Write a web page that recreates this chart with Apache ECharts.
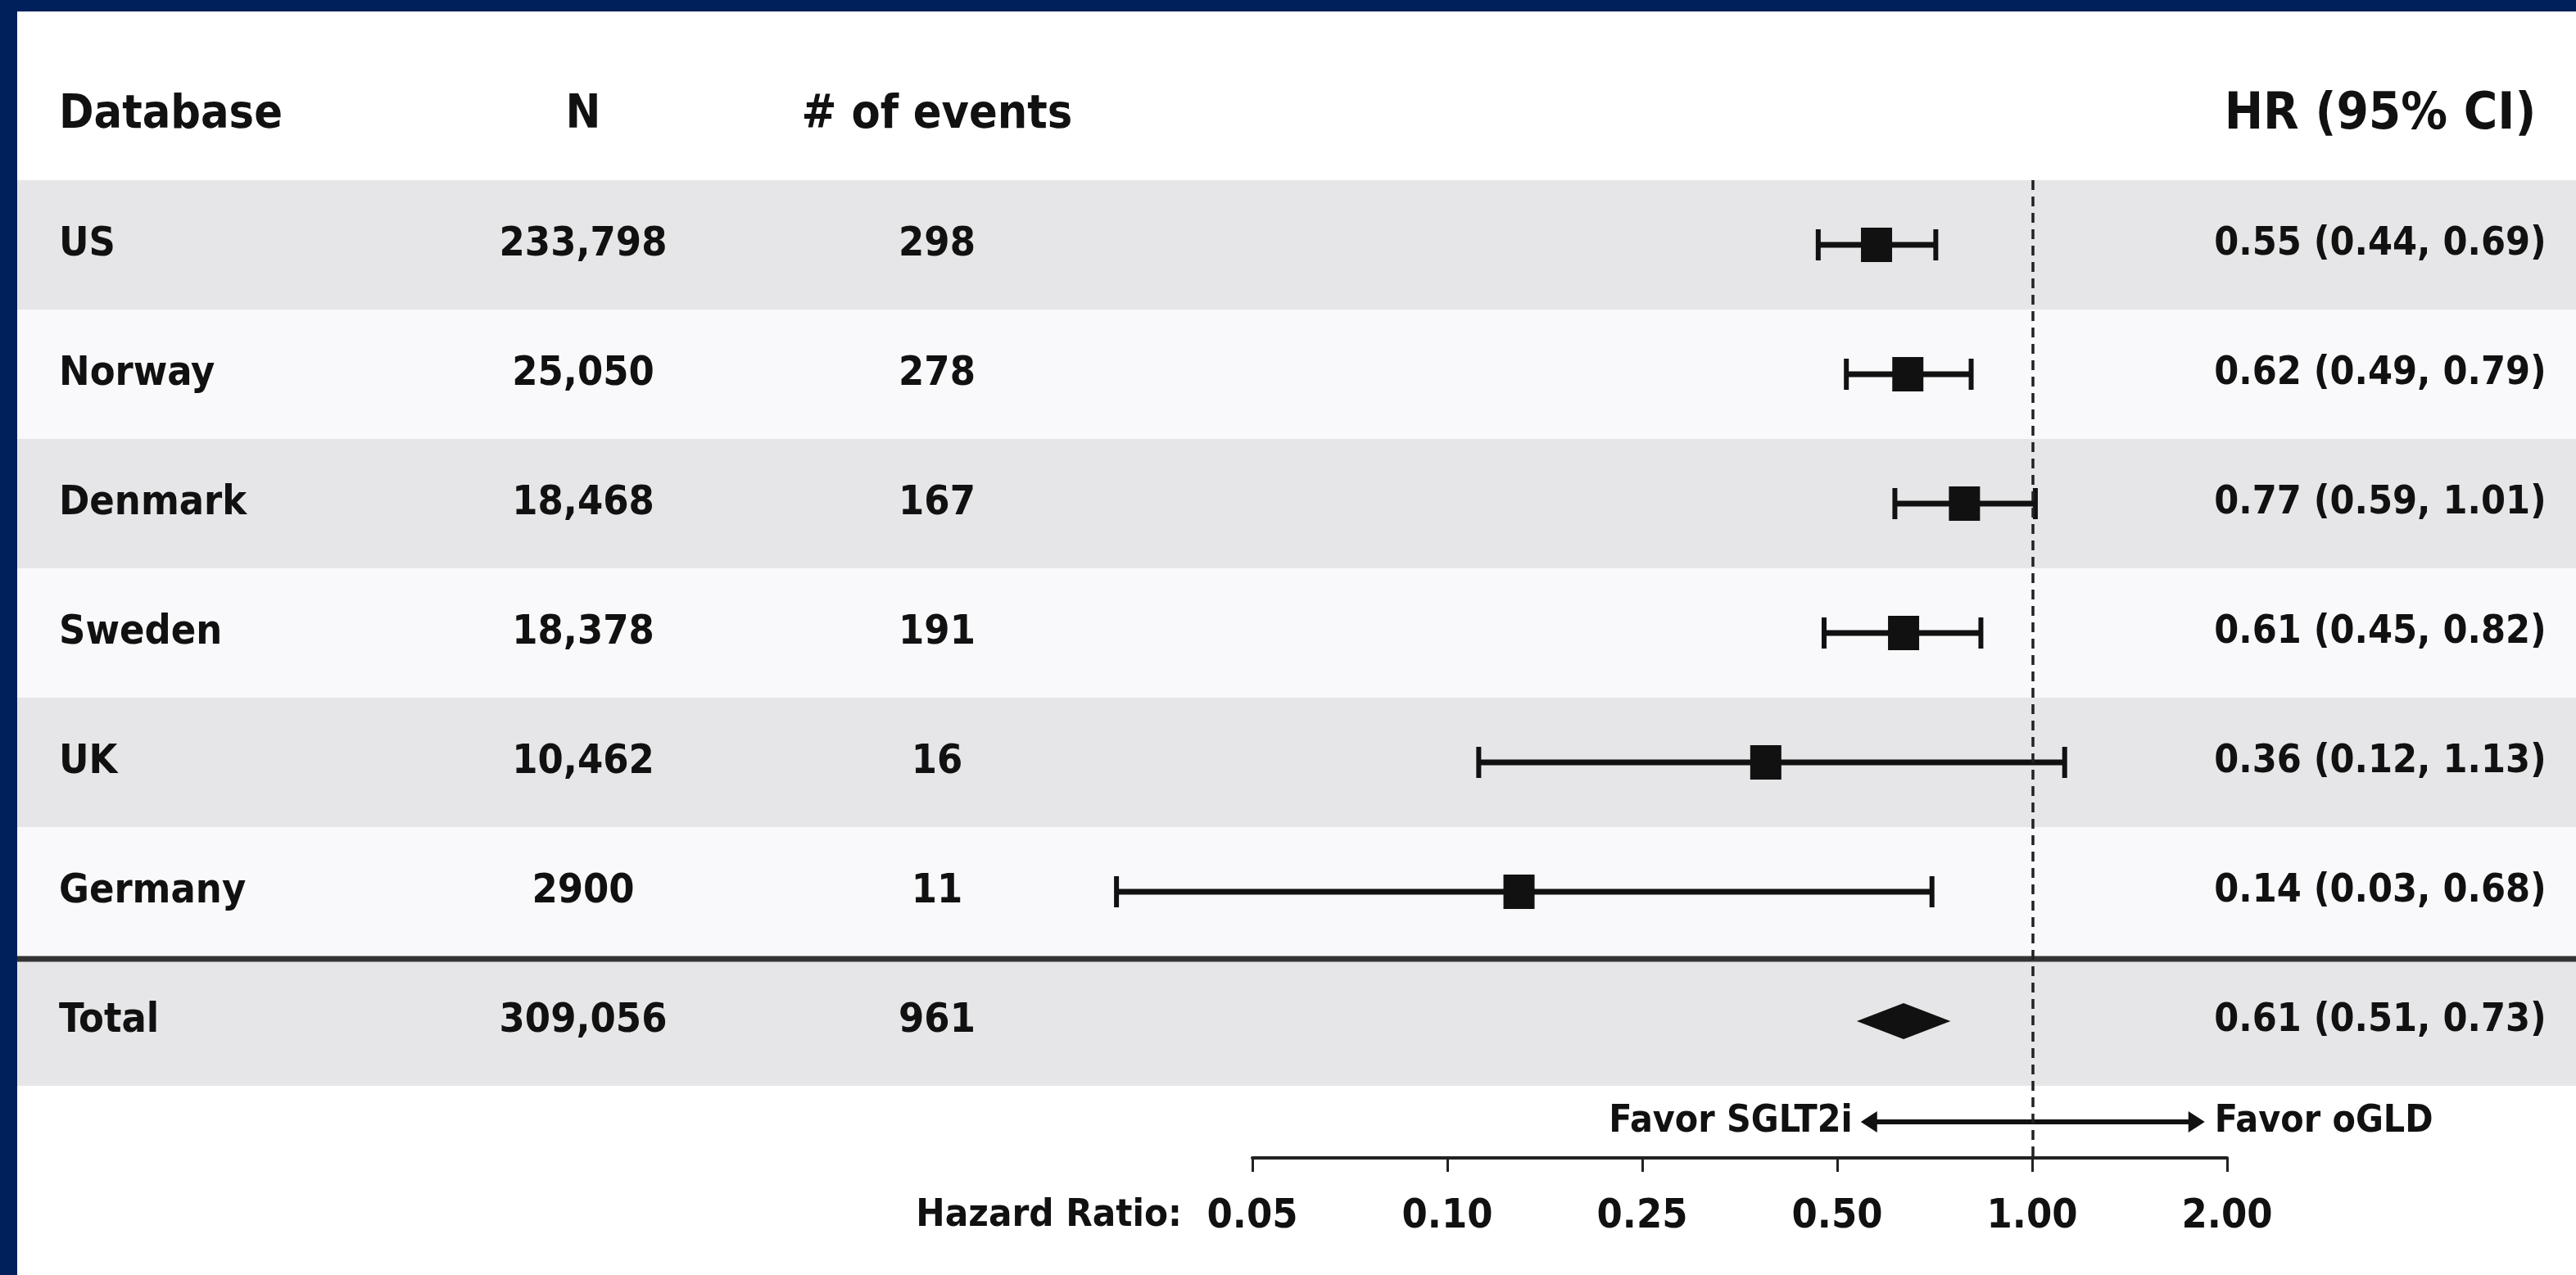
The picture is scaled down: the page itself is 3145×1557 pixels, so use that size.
<!DOCTYPE html>
<html><head><meta charset="utf-8">
<script src="https://cdn.jsdelivr.net/npm/echarts@6/dist/echarts.min.js"></script>
<style>html,body{margin:0;padding:0;background:#fff}#c{width:3145px;height:1557px}</style>
</head><body><div id="c"></div>
<script>
// ---------------- data ----------------
const databases = ['US', 'Norway', 'Denmark', 'Sweden', 'UK', 'Germany'];
const nValues   = ['233,798', '25,050', '18,468', '18,378', '10,462', '2900'];
const events    = ['298', '278', '167', '191', '16', '11'];
const hr        = [0.55, 0.62, 0.77, 0.61, 0.36, 0.14];
const ciLow     = [0.44, 0.49, 0.59, 0.45, 0.12, 0.03];
const ciHigh    = [0.69, 0.79, 1.01, 0.82, 1.13, 0.68];
const totalLabel = 'Total';
const nTotal = '309,056';
const eventsTotal = '961';
const hrTotal = [0.61];
const ciLowTotal = [0.51];
const ciHighTotal = [0.73];
const headers = ['Database', 'N', '# of events', 'HR (95% CI)'];
const tickLabels = ['0.05', '0.10', '0.25', '0.50', '1.00', '2.00'];
const axisTitle = 'Hazard Ratio:';
const favorLeft = 'Favor SGLT2i';
const favorRight = 'Favor oGLD';
const refValue = 1;

// ---------------- fonts ----------------
function hasFont(f) {
  const c = document.createElement('canvas').getContext('2d');
  const s = 'abcdefghijklmnopqrstuvwxyzABCDEFGHIJ0123456789';
  let diff = false;
  ['monospace', 'serif'].forEach(b => {
    c.font = '72px ' + b; const w1 = c.measureText(s).width;
    c.font = '72px "' + f + '", ' + b; const w2 = c.measureText(s).width;
    if (Math.abs(w1 - w2) > 0.5) diff = true;
  });
  return diff;
}
const candidates = ['Liberation Sans Narrow', 'DejaVu Sans Condensed', 'Roboto Condensed', 'Open Sans Condensed', 'Liberation Sans', 'Roboto'];
let FAM = 'sans-serif';
for (const f of candidates) { if (hasFont(f)) { FAM = '"' + f + '"'; break; } }
const FONT = FAM + ', sans-serif';
const mctx = document.createElement('canvas').getContext('2d');
function fitSize(str, target, maxSize) {
  mctx.font = 'bold 100px ' + FONT;
  const w = mctx.measureText(str).width;
  return Math.min(maxSize, Math.round(target * 100 / w));
}
const rowSize = fitSize('233,798', 206, 68);
const headerSize = fitSize('Database', 272, 70);
const hrHeadSize = fitSize('HR (95% CI)', 378, 72);
const hrSize = fitSize('0.55 (0.44, 0.69)', 408, 68);
const axisSize = fitSize('0.05', 110, 62);
const nameSize = fitSize(axisTitle, 328, 62);
const favorSize = fitSize('Favor SGLT2i', 295, 56);

// ---------------- layout ----------------
const colX = { name: 72, n: 712, events: 1144, hr: 2906 };
const INK = '#111111';
const bandColors = ['#ffffff', '#e6e6e8', '#f9f9fb', '#e6e6e8', '#f9f9fb', '#e6e6e8', '#f9f9fb', '#e6e6e8'];
const rowPitch = 158;
const dataTop = 220, axisY = 1414;

const fmt = v => v.toFixed(2);
const hrText = (h, l, u) => fmt(h) + ' (' + fmt(l) + ', ' + fmt(u) + ')';
const tableRows = [headers]
  .concat(databases.map((d, i) => [d, nValues[i], events[i], hrText(hr[i], ciLow[i], ciHigh[i])]))
  .concat([[totalLabel, nTotal, eventsTotal, hrText(hrTotal[0], ciLowTotal[0], ciHighTotal[0])]]);
const rowKeys = tableRows.map((r, i) => 'r' + i);
const totalRowIdx = tableRows.length - 1;

function txt(x, y, s, align, size) {
  return { type: 'text', x: x, y: y, style: { text: s, align: align, verticalAlign: 'middle',
    fill: INK, fontSize: size, fontWeight: 'bold', fontFamily: FONT } };
}

const chart = echarts.init(document.getElementById('c'), null, { renderer: 'canvas' });
const option = {
  animation: false,
  backgroundColor: '#ffffff',
  grid: [
    { left: 21, right: 0, top: dataTop - rowPitch, height: rowPitch * tableRows.length },
    { left: 1155, width: 1769, top: dataTop, height: axisY - dataTop },
    { left: 1529, width: 1190, top: axisY - 16, height: 16 }
  ],
  xAxis: [
    { gridIndex: 0, type: 'value', min: 0, max: 1, show: false },
    { gridIndex: 1, type: 'log', logBase: 2, min: 1 / 64, max: 4, show: false },
    { gridIndex: 2, type: 'value', min: 0, max: tickLabels.length - 1, interval: 1, position: 'bottom',
      axisLine: { show: true, onZero: false, lineStyle: { color: '#222', width: 4 } },
      axisTick: { show: true, length: 17, lineStyle: { color: '#222', width: 3 } },
      splitLine: { show: false },
      axisLabel: { formatter: v => tickLabels[Math.round(v)] || '', margin: 72, verticalAlign: 'middle',
        fontSize: axisSize, fontFamily: FONT, fontWeight: 'bold', color: INK },
      name: axisTitle, nameLocation: 'start', nameGap: 86, nameMoveOverlap: false,
      nameTextStyle: { fontSize: nameSize, fontFamily: FONT, fontWeight: 'bold', color: INK,
        align: 'right', verticalAlign: 'top', lineHeight: 142 } }
  ],
  yAxis: [
    { gridIndex: 0, type: 'category', inverse: true, data: rowKeys,
      axisLine: { show: false }, axisTick: { show: false }, axisLabel: { show: false },
      splitLine: { show: false },
      splitArea: { show: true, interval: 0, areaStyle: { color: bandColors } } },
    { gridIndex: 1, type: 'value', inverse: true, min: -0.5, max: -0.5 + (axisY - dataTop) / rowPitch, show: false },
    { gridIndex: 2, type: 'value', min: 0, max: 1, show: false }
  ],
  graphic: [
    { type: 'rect', z: 100, shape: { x: 0, y: 0, width: 3145, height: 14 }, style: { fill: '#00205b' } },
    { type: 'rect', z: 100, shape: { x: 0, y: 0, width: 21, height: 1557 }, style: { fill: '#00205b' } }
  ],
  series: [
    { // table text + separator
      type: 'custom', xAxisIndex: 0, yAxisIndex: 0, silent: true,
      data: tableRows.map((r, i) => [0.5, i]),
      renderItem: function (params, api) {
        const i = api.value(1);
        const y = api.coord([0, i])[1];
        const band = api.size([0, 1])[1];
        const cs = params.coordSys;
        const cells = tableRows[i];
        const head = i === 0;
        const s = head ? headerSize : rowSize;
        const ch = [
          txt(colX.name, y, cells[0], 'left', s),
          txt(colX.n, y, cells[1], 'center', s),
          txt(colX.events, y, cells[2], 'center', s),
          txt(colX.hr, y, cells[3], 'center', head ? hrHeadSize : hrSize)
        ];
        if (i === totalRowIdx) {
          const yy = y - band / 2 + 3;
          ch.push({ type: 'line', shape: { x1: cs.x, y1: yy, x2: cs.x + cs.width, y2: yy },
            style: { stroke: '#333', lineWidth: 7 } });
        }
        return { type: 'group', children: ch };
      }
    },
    { // study estimates
      type: 'custom', xAxisIndex: 1, yAxisIndex: 1, silent: true,
      encode: { x: [0, 1, 2], y: 3 },
      data: hr.map((v, i) => [ciLow[i], ciHigh[i], v, i]),
      renderItem: function (params, api) {
        const r = api.value(3);
        const lo = api.coord([api.value(0), r]);
        const hi = api.coord([api.value(1), r]);
        const md = api.coord([api.value(2), r]);
        const capH = 38, sqW = 38, sqH = 42;
        return { type: 'group', children: [
          { type: 'line', shape: { x1: lo[0], y1: lo[1], x2: hi[0], y2: hi[1] }, style: { stroke: INK, lineWidth: 7 } },
          { type: 'line', shape: { x1: lo[0], y1: lo[1] - capH / 2, x2: lo[0], y2: lo[1] + capH / 2 }, style: { stroke: INK, lineWidth: 6 } },
          { type: 'line', shape: { x1: hi[0], y1: hi[1] - capH / 2, x2: hi[0], y2: hi[1] + capH / 2 }, style: { stroke: INK, lineWidth: 6 } },
          { type: 'rect', shape: { x: md[0] - sqW / 2, y: md[1] - sqH / 2, width: sqW, height: sqH }, style: { fill: INK } }
        ] };
      },
      markLine: { silent: true, symbol: ['none', 'none'], label: { show: false },
        lineStyle: { type: [12, 8], color: '#222', width: 3.5 },
        data: [{ xAxis: refValue }] }
    },
    { // pooled diamond
      type: 'custom', xAxisIndex: 1, yAxisIndex: 1, silent: true,
      encode: { x: [0, 1, 2], y: 3 },
      data: hrTotal.map((v, i) => [ciLowTotal[i], ciHighTotal[i], v, databases.length]),
      renderItem: function (params, api) {
        const r = api.value(3);
        const lo = api.coord([api.value(0), r]);
        const hi = api.coord([api.value(1), r]);
        const md = api.coord([api.value(2), r]);
        const h = 44;
        return { type: 'polygon', shape: { points: [[lo[0], lo[1]], [md[0], md[1] - h / 2], [hi[0], hi[1]], [md[0], md[1] + h / 2]] },
          style: { fill: INK } };
      }
    },
    { // favor arrow
      type: 'custom', xAxisIndex: 1, yAxisIndex: 1, silent: true,
      data: [[refValue, 0]],
      renderItem: function (params, api) {
        const cx = api.coord([api.value(0), 0])[0];
        const cs = params.coordSys;
        const y = cs.y + cs.height - 44;
        const half = 210, head = 20, hw = 13;
        return { type: 'group', children: [
          { type: 'line', shape: { x1: cx - half + 6, y1: y, x2: cx + half - 6, y2: y }, style: { stroke: INK, lineWidth: 6 } },
          { type: 'polygon', shape: { points: [[cx - half, y], [cx - half + head, y - hw], [cx - half + head, y + hw]] }, style: { fill: INK } },
          { type: 'polygon', shape: { points: [[cx + half, y], [cx + half - head, y - hw], [cx + half - head, y + hw]] }, style: { fill: INK } },
          txt(cx - half - 10, y, favorLeft, 'right', favorSize),
          txt(cx + half + 12, y, favorRight, 'left', favorSize)
        ] };
      }
    },
    { type: 'scatter', xAxisIndex: 2, yAxisIndex: 2, data: [], silent: true }
  ]
};
chart.setOption(option);
</script>
</body></html>
